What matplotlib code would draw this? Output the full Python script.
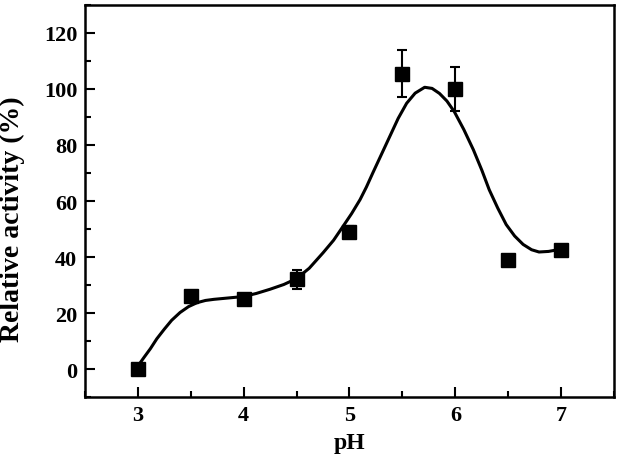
import matplotlib.pyplot as plt
from matplotlib.ticker import MultipleLocator

# measured points
ph = [3.0, 3.5, 4.0, 4.5, 5.0, 5.5, 6.0, 6.5, 7.0]
activity = [0.0, 26.0, 25.0, 32.0, 49.0, 105.5, 100.0, 39.0, 42.5]
err = [1.0, 1.5, 1.5, 3.5, 2.0, 8.3, 8.0, 1.0, 1.5]

# fitted curve
curve_ph = [3.0, 3.06, 3.12, 3.18, 3.25, 3.32, 3.40, 3.48, 3.56, 3.64, 3.72,
            3.86, 4.0, 4.12, 4.25, 4.38, 4.5, 4.62, 4.75, 4.85, 4.94,
            5.02, 5.10, 5.16, 5.22, 5.30, 5.38, 5.46, 5.54, 5.62, 5.71,
            5.78, 5.85, 5.92, 5.99, 6.08, 6.17, 6.25, 6.32, 6.40, 6.48,
            6.56, 6.64, 6.72, 6.79, 6.88, 6.98]
curve_act = [1.0, 4.2, 7.3, 10.8, 14.2, 17.4, 20.2, 22.3, 23.7, 24.5, 24.9,
             25.4, 25.9, 27.0, 28.5, 30.2, 32.3, 36.0, 41.5, 46.0, 51.0,
             55.5, 60.5, 65.0, 70.0, 76.5, 83.0, 89.5, 94.9, 98.5, 100.6,
             100.2, 98.4, 95.7, 91.9, 85.5, 78.3, 71.0, 64.0, 57.5, 51.6,
             47.5, 44.5, 42.6, 41.8, 42.0, 42.7]

plt.rcParams['font.family'] = 'Liberation Serif'
plt.rcParams['font.weight'] = 'bold'

fig = plt.figure(figsize=(6.28, 4.56), dpi=100)
ax = fig.add_axes([0.135, 0.127, 0.843, 0.86])

ax.plot(curve_ph, curve_act, color='black', lw=2.2, zorder=2,
        solid_joinstyle='round', solid_capstyle='round')

ax.errorbar(ph, activity, yerr=err, fmt='s', color='black', ms=9.5,
            capsize=3.6, elinewidth=1.5, capthick=1.5, zorder=3)

ax.set_xlim(2.5, 7.5)
ax.set_ylim(-10, 130)
ax.xaxis.set_major_locator(MultipleLocator(1))
ax.xaxis.set_minor_locator(MultipleLocator(0.5))
ax.yaxis.set_major_locator(MultipleLocator(20))
ax.yaxis.set_minor_locator(MultipleLocator(10))
ax.tick_params(which='both', direction='in', width=1.5, labelsize=16, pad=5.5)
ax.tick_params(which='major', length=7)
ax.tick_params(which='minor', length=4)
for s in ax.spines.values():
    s.set_linewidth(1.8)

ax.set_xlabel('pH', fontsize=17, fontweight='bold', va='bottom')
ax.set_ylabel('Relative activity (%)', fontsize=20, fontweight='bold')
ax.xaxis.set_label_coords(0.5, -0.143)
ax.yaxis.set_label_coords(-0.113, 0.457)

plt.savefig('out.png', dpi=100)
